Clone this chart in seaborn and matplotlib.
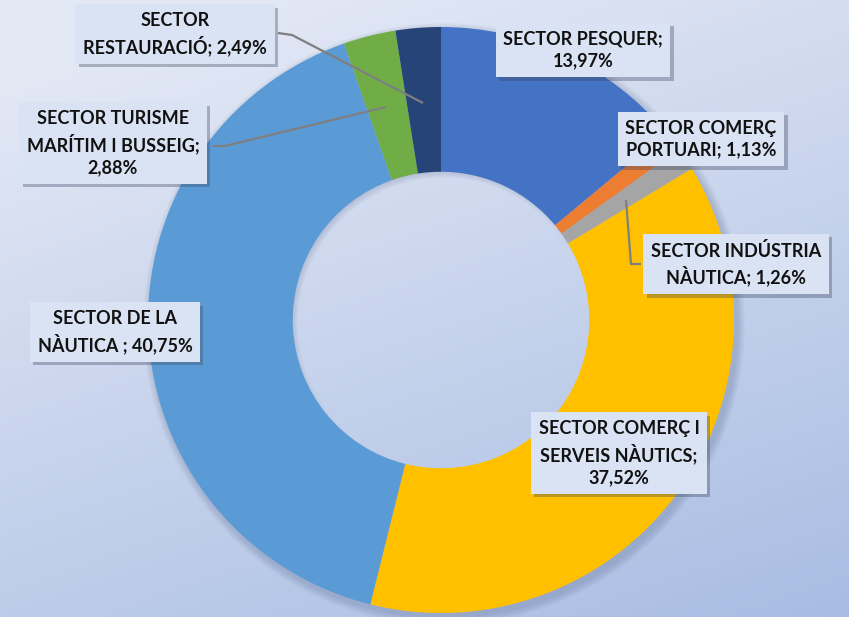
import numpy as np
import matplotlib
matplotlib.use("Agg")
import matplotlib.pyplot as plt
import matplotlib.patheffects as pe
from matplotlib.patches import Wedge
import seaborn as sns

# data, clockwise from 12 o'clock
sectors = ["SECTOR PESQUER", "SECTOR COMERÇ PORTUARI", "SECTOR INDÚSTRIA NÀUTICA",
           "SECTOR COMERÇ I SERVEIS NÀUTICS", "SECTOR DE LA NÀUTICA ",
           "SECTOR TURISME MARÍTIM I BUSSEIG", "SECTOR RESTAURACIÓ"]
shares = [13.97, 1.13, 1.26, 37.52, 40.75, 2.88, 2.49]
label_text = ["SECTOR PESQUER;\n13,97%",
              "SECTOR COMERÇ\nPORTUARI; 1,13%",
              "SECTOR INDÚSTRIA\nNÀUTICA; 1,26%",
              "SECTOR COMERÇ I\nSERVEIS NÀUTICS;\n37,52%",
              "SECTOR DE LA\nNÀUTICA ; 40,75%",
              "SECTOR TURISME\nMARÍTIM I BUSSEIG;\n2,88%",
              "SECTOR\nRESTAURACIÓ; 2,49%"]
colors = ["#4472C4", "#ED7D31", "#A5A5A5", "#FFC000", "#5B9BD5", "#70AD47", "#264478"]

# layout in pixels (y measured from the top)
W, H = 849, 617
cx, cy, R = 441, 320, 293
ring = R * 0.494
label_pos = [(583, 50), (701, 139), (736, 264), (619, 453), (115, 332), (113, 143), (175, 34)]
leaders = {
    2: [(626, 200), (631, 264), (641, 264)],
    5: [(213, 146), (225, 146), (386, 107)],
    6: [(278, 33), (292, 35), (423, 103)],
}

sns.set_style("white")
plt.rcParams["font.family"] = ["Lato", "DejaVu Sans"]

fig = plt.figure(figsize=(W / 100, H / 100), dpi=100)
ax = fig.add_axes([0, 0, 1, 1])

# soft gradient background
yy, xx = np.mgrid[0:1:200j, 0:1:280j]
t = np.clip(0.75 * yy + 0.35 * xx - 0.1, 0, 1)
top = np.array([0.89, 0.91, 0.96])
bot = np.array([0.66, 0.74, 0.89])
bg = top[None, None, :] * (1 - t[..., None]) + bot[None, None, :] * t[..., None]
ax.imshow(bg, extent=[0, W, 0, H], origin="upper", zorder=0, aspect="auto")

# faint shadow around the ring (outside edge and inside the hole)
for k in range(8):
    ax.add_patch(Wedge((cx + 3, H - cy - 4), R + 8 - k, 0, 360, width=ring + 2 * (8 - k) - 6,
                       color="#4a5a80", alpha=0.03, zorder=1, lw=0))

wedges, _ = ax.pie(shares, colors=colors, startangle=90, counterclock=False,
                   radius=R, center=(cx, H - cy),
                   wedgeprops=dict(width=ring, linewidth=0), frame=True)
for w in wedges:
    w.set_zorder(2)
ax.set_xlim(0, W)
ax.set_ylim(0, H)
ax.set_aspect("equal")
ax.axis("off")

for i, pts in leaders.items():
    xs = [p[0] for p in pts]
    ys = [H - p[1] for p in pts]
    ax.plot(xs, ys, color="#7F7F7F", lw=1.6, zorder=3, solid_capstyle="butt")

for txt, (lx, ly) in zip(label_text, label_pos):
    t = ax.text(lx, H - ly, txt, ha="center", va="center", multialignment="center",
                fontsize=13, fontweight="bold", color="#111111", linespacing=1.35,
                zorder=5,
                bbox=dict(boxstyle="square,pad=0.42", facecolor="#DAE3F3",
                          edgecolor="none"))
    t.get_bbox_patch().set_path_effects([
        pe.SimplePatchShadow(offset=(2.5, -2.5), shadow_rgbFace="#3a4660", alpha=0.35),
        pe.Normal()])

fig.savefig("out.png", dpi=100)
